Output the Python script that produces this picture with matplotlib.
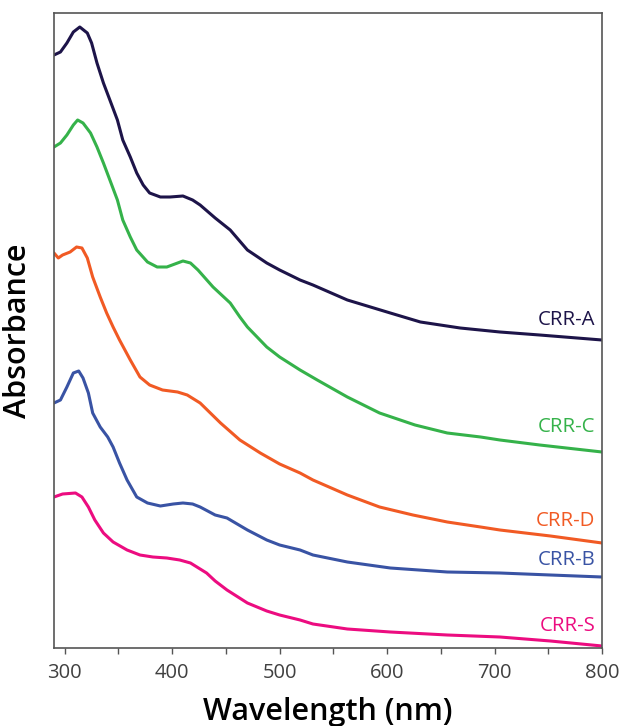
import matplotlib
matplotlib.use("Agg")
import matplotlib.pyplot as plt
from matplotlib.ticker import MultipleLocator

# UV-Vis spectra (offset absorbance, arbitrary units)
wl_a = [290, 296, 302, 308, 314, 321, 325, 330, 336, 342, 349, 354, 361, 367, 373, 379,
        389, 398, 410, 419, 426, 440, 454, 470, 488, 500, 519, 531, 563, 603, 631, 668,
        705, 742, 800]
abs_a = [593, 596, 605, 616, 621, 615, 605, 585, 565, 548, 528, 508, 491, 475, 463, 455,
         451, 451, 452, 448, 443, 430, 418, 398, 385, 378, 368, 363, 348, 335, 326, 320,
         316, 313, 308]

wl_c = [290, 296, 302, 308, 312, 317, 324, 330, 336, 342, 349, 354, 361, 367, 377, 386,
        395, 405, 410, 417, 424, 438, 454, 463, 470, 488, 500, 519, 535, 563, 593, 626,
        656, 687, 705, 742, 800]
abs_c = [501, 505, 513, 523, 528, 525, 515, 501, 485, 468, 448, 428, 411, 398, 386, 381,
         381, 385, 387, 385, 378, 361, 345, 331, 321, 301, 291, 278, 268, 251, 235, 223,
         215, 211, 208, 203, 196]

wl_d = [290, 294, 298, 305, 311, 316, 321, 326, 333, 339, 345, 351, 361, 370, 379, 391,
        405, 414, 426, 445, 463, 482, 500, 519, 531, 563, 593, 624, 656, 687, 705, 752, 800]
abs_d = [395, 390, 393, 396, 401, 400, 390, 371, 351, 335, 321, 308, 288, 271, 263, 258,
         256, 253, 245, 225, 208, 195, 184, 175, 168, 153, 141, 133, 126, 121, 118, 112, 105]

wl_b = [290, 296, 302, 308, 313, 317, 322, 326, 333, 340, 345, 351, 358, 367, 377, 389,
        401, 410, 419, 426, 440, 451, 470, 488, 500, 519, 531, 563, 603, 656, 705, 752, 800]
abs_b = [245, 248, 261, 275, 277, 270, 255, 235, 221, 211, 201, 185, 168, 151, 145, 142,
         144, 145, 144, 141, 133, 130, 118, 108, 103, 98, 93, 86, 80, 76, 75, 73, 71]

wl_s = [290, 298, 310, 316, 322, 328, 336, 345, 358, 370, 382, 395, 407, 417, 426, 432,
        440, 451, 470, 488, 500, 519, 531, 563, 603, 656, 705, 752, 800]
abs_s = [151, 154, 155, 151, 141, 128, 115, 106, 98, 93, 91, 90, 88, 85, 79, 75,
         67, 58, 45, 37, 33, 28, 24, 19, 16, 13, 11, 7, 2]

names = ["CRR-A", "CRR-C", "CRR-D", "CRR-B", "CRR-S"]
colors = ["#1d1449", "#35b24a", "#f15a24", "#3953a4", "#ec0c80"]
label_y = [328, 221, 127, 88, 22]

plt.rcParams["font.family"] = ["Open Sans", "DejaVu Sans"]

fig = plt.figure(figsize=(6.21, 7.26), dpi=100)
ax = fig.add_axes([54 / 621, 78 / 726, 548 / 621, 635 / 726])

series = [(wl_a, abs_a), (wl_c, abs_c), (wl_d, abs_d), (wl_b, abs_b), (wl_s, abs_s)]
for (x, y), name, col, ly in zip(series, names, colors, label_y):
    ax.plot(x, y, color=col, lw=2.2, solid_joinstyle="round", solid_capstyle="round")
    ax.text(794, ly, name, color=col, fontsize=14.7, ha="right", va="center")

ax.set_xlim(290, 800)
ax.set_ylim(0, 635)
ax.set_yticks([])
ax.xaxis.set_major_locator(MultipleLocator(100))
ax.xaxis.set_minor_locator(MultipleLocator(50))
ax.tick_params(axis="x", which="both", direction="out", length=4, width=1,
               color="#555555", labelsize=14.5, labelcolor="#404040", pad=7)
for s in ax.spines.values():
    s.set_color("#555555")
    s.set_linewidth(1.2)

ax.set_xlabel("Wavelength (nm)", fontsize=22, fontweight="semibold", labelpad=10)
ax.set_ylabel("Absorbance", fontsize=22, fontweight="semibold", labelpad=15)

fig.savefig("out.png", dpi=100)
